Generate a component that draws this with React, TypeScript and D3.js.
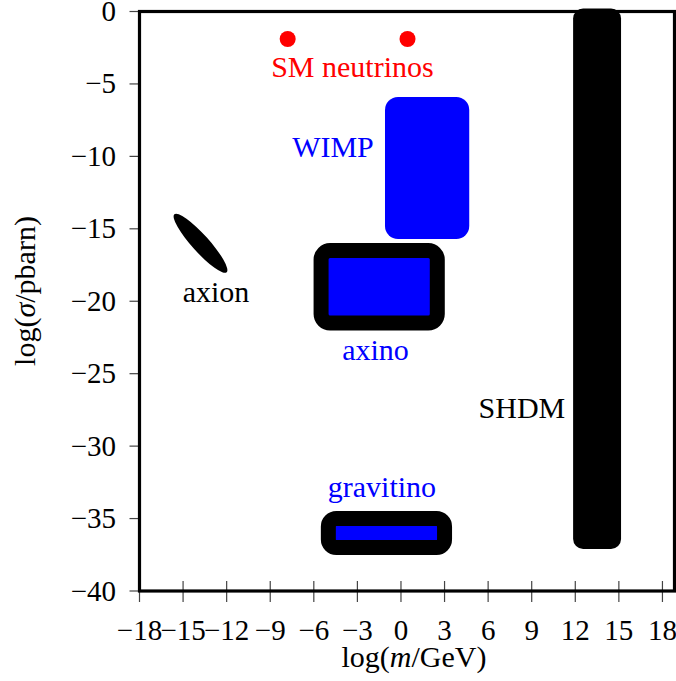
import React from "react";
import * as d3 from "d3";

const xTicks = [-18, -15, -12, -9, -6, -3, 0, 3, 6, 9, 12, 15, 18];
const yTicks = [0, -5, -10, -15, -20, -25, -30, -35, -40];
const xDomain = [-18, 18.83];
const yDomain = [-40, 0];

// SM neutrinos points [log m, log sigma]
const smNeutrinos = [
  [-7.8, -1.9],
  [0.45, -1.9],
];

// rounded boxes: [mMin, mMax, sTop, sBottom]
const wimpBox = [-1.1, 4.7, -5.9, -15.7];
const axinoBox = [-5.5, 2.5, -16.5, -21.5];
const gravitinoBox = [-5, 3, -35, -37];
const shdmBox = [11.85, 15.15, 0.2, -37.1];

// axion ellipse major axis endpoints
const axionAxis = [
  [-15.6, -14.0],
  [-12.0, -18.0],
];

const labelNames = ["SM neutrinos", "WIMP", "axion", "axino", "gravitino", "SHDM"];
const labelM = [-3.34, -4.68, -12.73, -1.75, -1.31, 8.33];
const labelS = [-4.52, -10.04, -20.05, -24.05, -33.51, -28.06];
const labelColors = ["#ff0000", "#0000ff", "#000000", "#0000ff", "#0000ff", "#000000"];

const W = 676;
const H = 681;
const FONT = "'Liberation Serif', 'DejaVu Serif', serif";
const ts: React.CSSProperties = { fontFamily: FONT, fontSize: 30 };
const tk: React.CSSProperties = { fontFamily: FONT, fontSize: 29 };

export default function App() {
  const x = d3.scaleLinear().domain(xDomain).range([139.5, 674.5]);
  const y = d3.scaleLinear().domain(yDomain).range([591, 11.5]);

  const box = (b: number[]) => {
    const x0 = x(b[0]);
    const x1 = x(b[1]);
    const y0 = y(b[2]);
    const y1 = y(b[3]);
    return { x: Math.min(x0, x1), y: Math.min(y0, y1), w: Math.abs(x1 - x0), h: Math.abs(y1 - y0) };
  };

  const wimp = box(wimpBox);
  const axino = box(axinoBox);
  const grav = box(gravitinoBox);
  const shdm = box(shdmBox);

  const ax0 = [x(axionAxis[0][0]), y(axionAxis[0][1])];
  const ax1 = [x(axionAxis[1][0]), y(axionAxis[1][1])];
  const acx = (ax0[0] + ax1[0]) / 2;
  const acy = (ax0[1] + ax1[1]) / 2;
  const arx = Math.hypot(ax1[0] - ax0[0], ax1[1] - ax0[1]) / 2;
  const aAng = (Math.atan2(ax1[1] - ax0[1], ax1[0] - ax0[0]) * 180) / Math.PI;

  const [r0, r1] = x.range();
  const [b0, t0] = y.range();

  return (
    <svg width={W} height={H} style={{ display: "block", position: "absolute", left: 0, top: 0 }}>
      <rect x={0} y={0} width={W} height={H} fill="#fff" />
      {/* shapes */}
      <rect x={shdm.x} y={shdm.y} width={shdm.w} height={shdm.h} rx={10} fill="#000" />
      <rect x={wimp.x} y={wimp.y} width={wimp.w} height={wimp.h} rx={13} fill="#0000ff" />
      <rect x={axino.x} y={axino.y} width={axino.w} height={axino.h} rx={9} fill="#0000ff" stroke="#000" strokeWidth={15} strokeLinejoin="round" />
      <rect x={grav.x} y={grav.y} width={grav.w} height={grav.h} rx={8} fill="#0000ff" stroke="#000" strokeWidth={15} strokeLinejoin="round" />
      <ellipse cx={acx} cy={acy} rx={arx} ry={8.5} transform={`rotate(${aAng} ${acx} ${acy})`} fill="#000" />
      {smNeutrinos.map((p, i) => (
        <circle key={i} cx={x(p[0])} cy={y(p[1])} r={8} fill="#ff0000" />
      ))}
      {labelNames.map((t, i) => (
        <text key={t} x={x(labelM[i])} y={y(labelS[i])} fill={labelColors[i]} style={ts} textAnchor="middle">
          {t}
        </text>
      ))}
      {/* ticks */}
      {xTicks.map((t) => (
        <line key={"xt" + t} x1={x(t)} x2={x(t)} y1={b0 - 10} y2={b0 + 11} stroke="#444" strokeWidth={1.2} />
      ))}
      {yTicks.map((t) => (
        <line key={"yt" + t} x1={r0 - 10} x2={r0} y1={y(t)} y2={y(t)} stroke="#444" strokeWidth={1.2} />
      ))}
      {/* frame */}
      <rect x={r0} y={t0} width={r1 - r0} height={b0 - t0} fill="none" stroke="#000" strokeWidth={3.2} />
      {xTicks.map((t) => (
        <text key={"xl" + t} x={x(t)} y={640} style={tk} textAnchor="middle">
          {t < 0 ? "\u2212" + Math.abs(t) : String(t)}
        </text>
      ))}
      {yTicks.map((t) => (
        <text key={"yl" + t} x={116} y={y(t) + 9.5} style={tk} textAnchor="end">
          {t < 0 ? "\u2212" + Math.abs(t) : String(t)}
        </text>
      ))}
      <text x={414} y={667} style={ts} textAnchor="middle">
        log(<tspan fontStyle="italic">m</tspan>/GeV)
      </text>
      <text transform={`translate(35, 291) rotate(-90)`} style={ts} textAnchor="middle">
        log(<tspan fontStyle="italic">σ</tspan>/pbarn)
      </text>
    </svg>
  );
}
